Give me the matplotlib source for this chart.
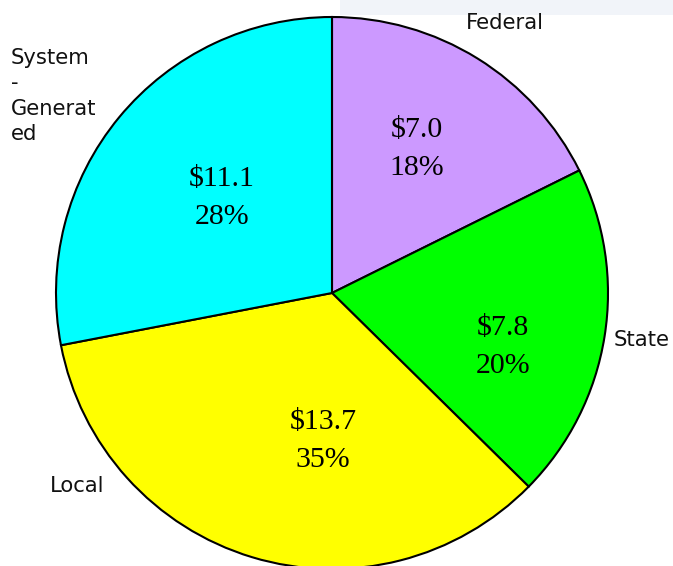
import matplotlib
matplotlib.use("Agg")
import matplotlib.pyplot as plt
from matplotlib.patches import Rectangle

categories = ["Federal", "State", "Local", "System\n-\nGenerat\ned"]
values = [7.0, 7.8, 13.7, 11.1]
percent_labels = ["18%", "20%", "35%", "28%"]
colors = ["#CC99FF", "#00FF00", "#FFFF00", "#00FFFF"]

W, H = 673, 566
fig = plt.figure(figsize=(W / 100, H / 100), dpi=100)
ax = fig.add_axes([0, 0, 1, 1])

# faint band at top right
ax.add_patch(Rectangle((340, H - 15), W - 340, 15, facecolor="#f1f4f9",
                       edgecolor="none", zorder=0))

cx, cy, r = 332, H - 293, 276
ax.pie(values, colors=colors, startangle=90, counterclock=False,
       radius=r, center=(cx, cy), frame=True,
       wedgeprops=dict(edgecolor="black", linewidth=1.5))
ax.set_xlim(0, W)
ax.set_ylim(0, H)
ax.axis("off")

# value labels (pixel positions, top-left origin)
val_pos = [(417, 149), (503, 347), (323, 441), (222, 198)]
for v, p, (x, y) in zip(values, percent_labels, val_pos):
    ax.text(x, H - y, f"${v:.1f}\n{p}", ha="center", va="center",
            fontsize=21.5, family="Liberation Serif", linespacing=1.6)

# category labels
cat_pos = [(466, 23, "center"), (614, 340, "center"), (50, 486, "center"),
           (11, 48, "top")]
for name, (x, y, va) in zip(categories, cat_pos):
    ax.text(x, H - y, name, ha="left", va=va, fontsize=15.2,
            family="DejaVu Sans", linespacing=1.33, color="#111111")

fig.savefig("out.png", dpi=100)
